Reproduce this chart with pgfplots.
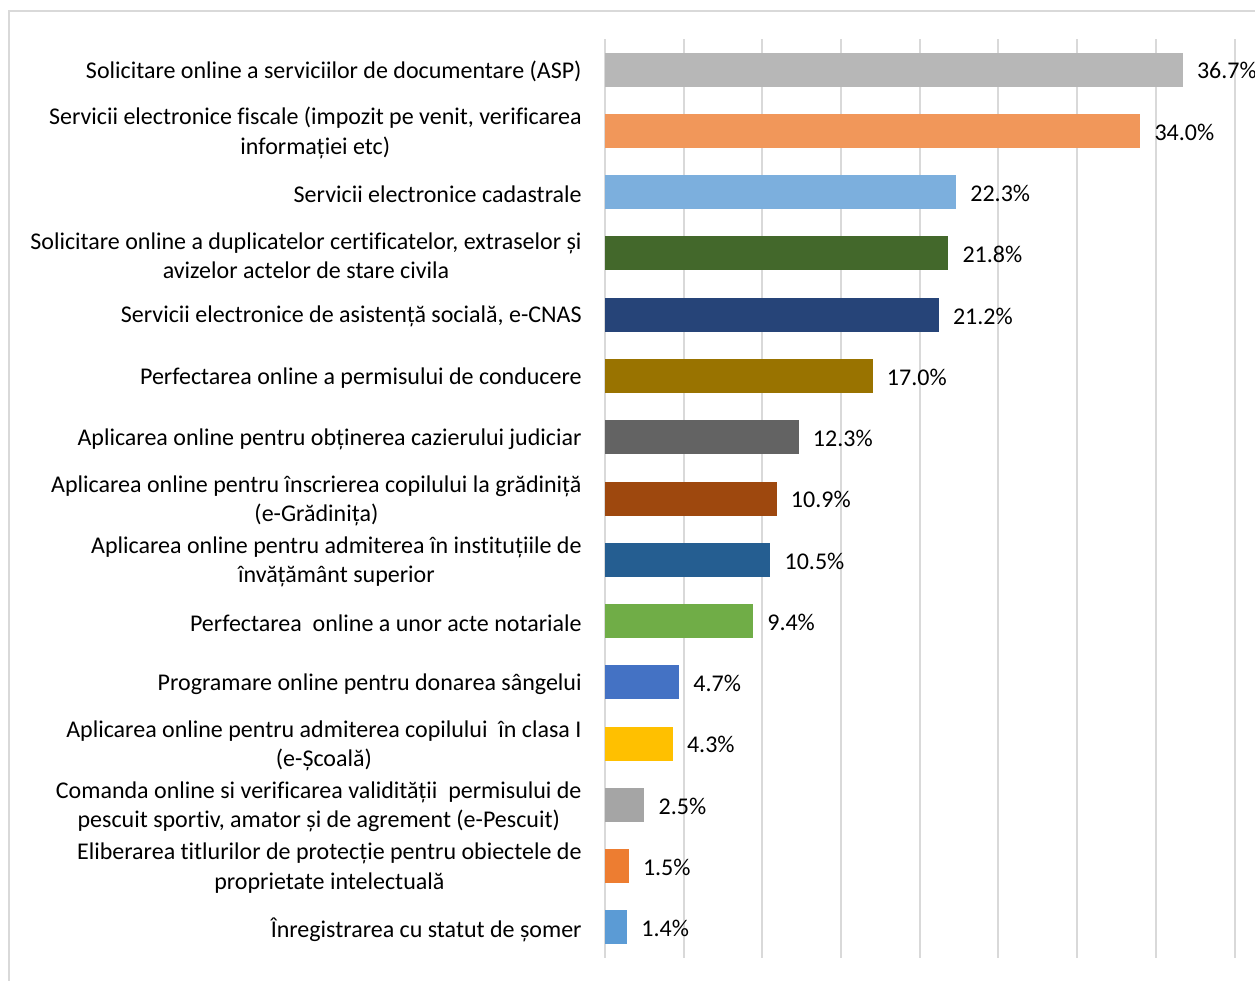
\documentclass[border=0pt]{standalone}
\usepackage{pgfplots}
\pgfplotsset{compat=1.18}
\usepackage{fontspec}
\setmainfont{Carlito}[Ligatures={NoCommon}]

\definecolor{gridgray}{HTML}{D9D9D9}
\definecolor{c1}{HTML}{B7B7B7}
\definecolor{c2}{HTML}{F1975A}
\definecolor{c3}{HTML}{7CAFDD}
\definecolor{c4}{HTML}{43682B}
\definecolor{c5}{HTML}{264478}
\definecolor{c6}{HTML}{997300}
\definecolor{c7}{HTML}{636363}
\definecolor{c8}{HTML}{9E480E}
\definecolor{c9}{HTML}{255E91}
\definecolor{c10}{HTML}{70AD47}
\definecolor{c11}{HTML}{4472C4}
\definecolor{c12}{HTML}{FFC000}
\definecolor{c13}{HTML}{A5A5A5}
\definecolor{c14}{HTML}{ED7D31}
\definecolor{c15}{HTML}{5B9BD5}

\newcommand{\lblfont}{\fontsize{12}{14.6}\selectfont}

\begin{document}
\begin{tikzpicture}
\useasboundingbox (0,0) rectangle (627.5pt,-490.5pt);
% chart border (left and top edges visible)
\draw[gridgray, line width=1pt] (4.5pt,-500pt) -- (4.5pt,-5.5pt) -- (640pt,-5.5pt);
\begin{axis}[
    at={(302.5pt,-479pt)}, anchor=south west,
    scale only axis,
    width=314.8pt, height=459.5pt,
    xbar, bar width=17pt, bar shift=0pt,
    xmin=0, xmax=40,
    ymin=-0.5, ymax=14.5,
    y dir=reverse,
    xtick={0,5,...,40}, xticklabels={},
    xmajorgrids,
    grid style={gridgray, line width=1pt},
    axis line style={draw=none},
    major tick length=0pt,
    ytick={0,...,14},
    yticklabels={
        {Solicitare online a serviciilor de documentare (ASP)},
        {Servicii electronice fiscale (impozit pe venit, verificarea\\informației etc)},
        {Servicii electronice cadastrale},
        {Solicitare online a duplicatelor certificatelor, extraselor și\\avizelor actelor de stare civila},
        {Servicii electronice de asistență socială, e-CNAS},
        {Perfectarea online a permisului de conducere},
        {Aplicarea online pentru obținerea cazierului judiciar},
        {Aplicarea online pentru înscrierea copilului la grădiniță\\(e-Grădinița)},
        {Aplicarea online pentru admiterea în instituțiile de\\învățământ superior},
        {Perfectarea\ \ online a unor acte notariale},
        {Programare online pentru donarea sângelui},
        {Aplicarea online pentru admiterea copilului\ \ în clasa I\\(e-Școală)},
        {Comanda online si verificarea validității\ \ permisului de\\pescuit sportiv, amator și de agrement (e-Pescuit)},
        {Eliberarea titlurilor de protecție pentru obiectele de\\proprietate intelectuală},
        {Înregistrarea cu statut de șomer}
    },
    yticklabel style={align=center, font=\lblfont, inner sep=0pt, xshift=-11.5pt, yshift=-1pt, text=black},
    point meta=x,
    nodes near coords={\pgfmathprintnumber[fixed, fixed zerofill, precision=1, assume math mode=true]{\pgfplotspointmeta}\%},
    every node near coord/.append style={font=\lblfont, text=black, anchor=west, inner sep=0pt, xshift=7pt, yshift=-0.6pt},
]
\addplot[fill=c1, draw=none] coordinates {(36.7,0)};
\addplot[fill=c2, draw=none] coordinates {(34.0,1)};
\addplot[fill=c3, draw=none] coordinates {(22.3,2)};
\addplot[fill=c4, draw=none] coordinates {(21.8,3)};
\addplot[fill=c5, draw=none] coordinates {(21.2,4)};
\addplot[fill=c6, draw=none] coordinates {(17.0,5)};
\addplot[fill=c7, draw=none] coordinates {(12.3,6)};
\addplot[fill=c8, draw=none] coordinates {(10.9,7)};
\addplot[fill=c9, draw=none] coordinates {(10.5,8)};
\addplot[fill=c10, draw=none] coordinates {(9.4,9)};
\addplot[fill=c11, draw=none] coordinates {(4.7,10)};
\addplot[fill=c12, draw=none] coordinates {(4.3,11)};
\addplot[fill=c13, draw=none] coordinates {(2.5,12)};
\addplot[fill=c14, draw=none] coordinates {(1.5,13)};
\addplot[fill=c15, draw=none] coordinates {(1.4,14)};
\end{axis}
\end{tikzpicture}
\end{document}
